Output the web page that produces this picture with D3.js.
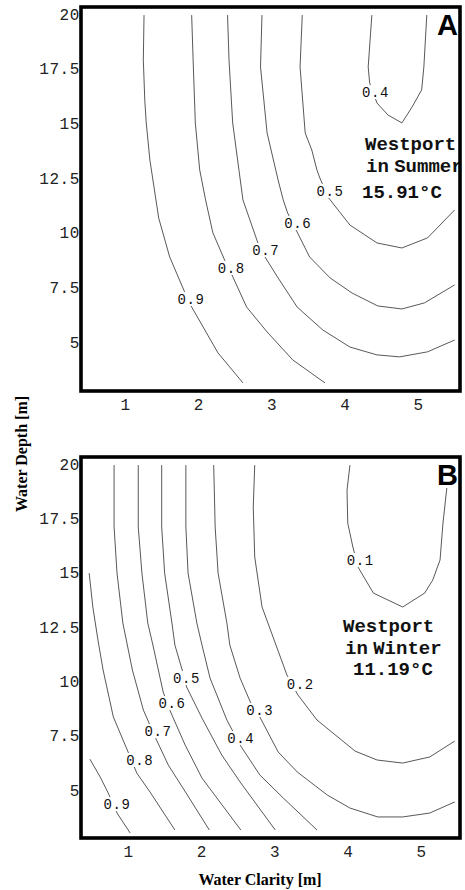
<!DOCTYPE html>
<html lang="en">
<head>
  <meta charset="UTF-8">
  <title>Westport contour plots</title>
  <script src="https://d3js.org/d3.v7.min.js"></script>
  <style>
    body { margin: 0; background: #fff; }
  </style>
</head>
<body>
  <svg id="chart" width="465" height="890"></svg>

  <script>
    // axis ticks
    const clarityTicks = [1, 2, 3, 4, 5];
    const depthTicks = [5, 7.5, 10, 12.5, 15, 17.5, 20];

    // summer panel (A): contour levels, lines as [clarity, depth], label spots
    const summerLevels = [0.9, 0.8, 0.7, 0.6, 0.5, 0.4];
    const summerLines = [
      [[1.26, 19.95], [1.25, 17.9], [1.27, 16.07], [1.29, 15.02], [1.34, 13.32], [1.46, 10.67], [1.61, 8.89], [1.82, 7.24], [1.91, 6.6], [2.27, 4.5], [2.61, 3.13]],
      [[1.91, 19.95], [1.93, 17.9], [1.96, 15.02], [2.02, 12.87], [2.1, 11.5], [2.2, 9.99], [2.36, 8.75], [2.46, 8.07], [2.66, 6.6], [2.94, 5.46], [3.29, 4.18], [3.73, 3.13]],
      [[2.4, 19.95], [2.42, 17.9], [2.47, 15.02], [2.61, 11.5], [2.81, 9.57], [2.92, 8.84], [3.09, 7.93], [3.35, 6.6], [3.7, 5.55], [4.07, 4.77], [4.44, 4.41], [4.75, 4.32], [5.13, 4.55], [5.5, 5.09]],
      [[2.87, 19.95], [2.85, 17.58], [2.94, 14.56], [3.09, 12.41], [3.16, 11.5], [3.22, 10.9], [3.35, 10.03], [3.52, 8.89], [3.8, 7.93], [4.1, 7.24], [4.45, 6.65], [4.78, 6.51], [5.09, 6.79], [5.5, 7.61]],
      [[3.42, 19.95], [3.39, 17.58], [3.46, 14.56], [3.55, 13.78], [3.62, 12.87], [3.66, 12.5], [3.78, 11.59], [4.07, 10.35], [4.44, 9.53], [4.78, 9.3], [5.13, 9.76], [5.5, 11.04]],
      [[4.37, 19.95], [4.32, 17.58], [4.34, 16.85], [4.44, 15.93], [4.59, 15.38], [4.78, 15.02], [4.92, 15.75], [5.05, 16.53], [5.08, 17.58], [5.12, 19.95]]
    ];
    const summerLabelAt = [[1.9, 6.97], [2.45, 8.39], [2.92, 9.21], [3.36, 10.44], [3.8, 11.91], [4.42, 16.43]];

    // winter panel (B)
    const winterLevels = [0.9, 0.8, 0.7, 0.6, 0.5, 0.4, 0.3, 0.2, 0.1];
    const winterLines = [
      [[0.48, 6.42], [0.62, 5.6], [0.73, 4.86], [0.85, 3.94], [1.03, 3.02]],
      [[0.47, 14.98], [0.52, 13.42], [0.59, 11.9], [0.66, 10.52], [0.8, 8.36], [0.99, 6.84], [1.12, 5.78], [1.3, 4.91], [1.64, 3.16]],
      [[0.81, 19.95], [0.81, 17.1], [0.85, 14.98], [0.93, 12.68], [1.06, 10.52], [1.21, 8.68], [1.37, 7.44], [1.55, 6.15], [1.81, 4.77], [2.11, 3.16]],
      [[1.14, 19.95], [1.14, 17.1], [1.19, 14.98], [1.27, 12.68], [1.34, 11.67], [1.48, 9.51], [1.57, 8.68], [1.78, 7.07], [2.01, 5.55], [2.54, 3.16]],
      [[1.46, 19.95], [1.46, 17.1], [1.5, 14.98], [1.6, 12.68], [1.64, 11.67], [1.74, 10.52], [1.8, 9.74], [2.01, 8.31], [2.28, 6.61], [2.53, 5.37], [3.01, 3.16]],
      [[1.79, 19.95], [1.79, 17.1], [1.82, 14.98], [1.94, 12.68], [2.01, 11.67], [2.12, 10.15], [2.35, 8.22], [2.53, 7.07], [2.8, 5.69], [3.12, 4.63], [3.58, 3.16]],
      [[2.17, 19.95], [2.19, 17.1], [2.23, 14.98], [2.35, 12.68], [2.39, 11.67], [2.53, 10.15], [2.67, 9.05], [2.8, 8.36], [3.05, 6.75], [3.31, 5.83], [3.72, 4.77], [4.03, 4.17], [4.41, 3.76], [4.75, 3.76], [5.12, 3.94], [5.46, 4.45]],
      [[2.73, 19.95], [2.71, 18.02], [2.73, 15.72], [2.83, 13.42], [2.98, 12.04], [3.17, 10.29], [3.32, 9.37], [3.58, 8.22], [4.1, 6.79], [4.4, 6.38], [4.75, 6.24], [5.12, 6.52], [5.46, 7.25]],
      [[4.03, 19.95], [3.99, 18.8], [4.0, 17.28], [4.07, 16.18], [4.14, 15.26], [4.35, 14.06], [4.75, 13.42], [5.05, 14.06], [5.16, 14.66], [5.26, 15.58], [5.3, 17.28], [5.36, 19.13], [5.36, 19.95]]
    ];
    const winterLabelAt = [[0.85, 4.35], [1.16, 6.38], [1.41, 7.71], [1.6, 9.0], [1.8, 10.15], [2.54, 7.39], [2.8, 8.68], [3.35, 9.88], [4.17, 15.58]];

    const summerNote = ['Westport', 'in Summer', '15.91°C'];
    const winterNote = ['Westport', 'in Winter', '11.19°C'];

    const svg = d3.select('#chart');

    const panels = [
      { tag: 'A', levels: summerLevels, lines: summerLines, labelAt: summerLabelAt, note: summerNote,
        frame: [81, 7, 460, 391], xr: [125, 418], yr: [342, 14],
        noteX: [365, 366, 362], noteY: [143, 165, 191] },
      { tag: 'B', levels: winterLevels, lines: winterLines, labelAt: winterLabelAt, note: winterNote,
        frame: [81, 457, 460, 838], xr: [128, 421], yr: [790, 464],
        noteX: [343, 345, 353], noteY: [625, 647, 668] }
    ];

    const mono = '"Liberation Mono", "DejaVu Sans Mono", monospace';

    panels.forEach((p, i) => {
      const [x0, y0, x1, y1] = p.frame;
      const x = d3.scaleLinear().domain([1, 5]).range(p.xr);
      const y = d3.scaleLinear().domain([5, 20]).range(p.yr);

      svg.append('clipPath').attr('id', 'clip' + i)
        .append('rect').attr('x', x0).attr('y', y0).attr('width', x1 - x0).attr('height', y1 - y0);

      const g = svg.append('g').attr('clip-path', `url(#clip${i})`);

      const line = d3.line().x(d => x(d[0])).y(d => y(d[1]));

      g.selectAll('path.contour')
        .data(p.lines)
        .enter().append('path')
        .attr('class', 'contour')
        .attr('d', line)
        .attr('fill', 'none')
        .attr('stroke', '#3a3a3a')
        .attr('stroke-width', 0.85);

      // level labels sit on a white patch that breaks the line
      const lab = g.selectAll('g.lab')
        .data(p.levels)
        .enter().append('g')
        .attr('class', 'lab')
        .attr('transform', (d, j) => `translate(${x(p.labelAt[j][0])},${y(p.labelAt[j][1])})`);
      lab.append('rect')
        .attr('x', -14).attr('y', -7).attr('width', 28).attr('height', 14)
        .attr('fill', '#fff');
      lab.append('text')
        .attr('text-anchor', 'middle')
        .attr('dy', '0.35em')
        .style('font-family', mono)
        .style('font-size', '14px')
        .style('letter-spacing', '0.6px')
        .style('fill', '#111')
        .text(d => d3.format('.1f')(d));

      // site / temperature note
      g.selectAll('text.note')
        .data(p.note)
        .enter().append('text')
        .attr('class', 'note')
        .attr('x', (d, j) => p.noteX[j])
        .attr('y', (d, j) => p.noteY[j])
        .attr('dy', '0.35em')
        .style('font-family', mono)
        .style('font-weight', 'bold')
        .style('font-size', '19px')
        .style('word-spacing', '-6px')
        .style('fill', '#111')
        .text(d => d);

      // panel letter
      g.append('rect')
        .attr('x', x1 - 25).attr('y', y0 + 3).attr('width', 24).attr('height', 28)
        .attr('fill', '#fff');
      g.append('text')
        .attr('x', x1 - 2)
        .attr('y', y0 + 28)
        .attr('text-anchor', 'end')
        .style('font-family', '"Liberation Sans", Arial, sans-serif')
        .style('font-weight', 'bold')
        .style('font-size', '29px')
        .text(p.tag);

      // frame
      svg.append('rect')
        .attr('x', x0).attr('y', y0)
        .attr('width', x1 - x0).attr('height', y1 - y0)
        .attr('fill', 'none')
        .attr('stroke', '#000')
        .attr('stroke-width', 3.6);

      // axes: labels only
      const xAxis = svg.append('g')
        .attr('transform', `translate(0,${y1})`)
        .call(d3.axisBottom(x).tickValues(clarityTicks).tickSize(0).tickPadding(8).tickFormat(d => d));
      const yAxis = svg.append('g')
        .attr('transform', `translate(${x0 - 1},0)`)
        .call(d3.axisLeft(y).tickValues(depthTicks).tickSize(0).tickPadding(0).tickFormat(d => d));

      [xAxis, yAxis].forEach(a => {
        a.select('.domain').remove();
        a.selectAll('text')
          .style('font-family', mono)
          .style('font-size', '16px')
          .style('letter-spacing', '0.6px')
          .style('fill', '#222');
      });
    });

    // axis titles
    const serif = '"Liberation Serif", "Times New Roman", serif';
    svg.append('text')
      .attr('transform', 'translate(27,454) rotate(-90)')
      .attr('text-anchor', 'middle')
      .style('font-family', serif)
      .style('font-weight', 'bold')
      .style('font-size', '16px')
      .text('Water Depth [m]');

    svg.append('text')
      .attr('x', 260)
      .attr('y', 885)
      .attr('text-anchor', 'middle')
      .style('font-family', serif)
      .style('font-weight', 'bold')
      .style('font-size', '16px')
      .text('Water Clarity [m]');
  </script>
</body>
</html>
